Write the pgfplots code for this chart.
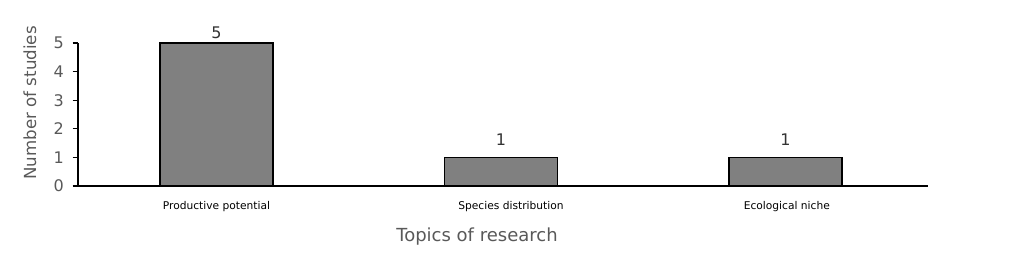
\documentclass[border=0pt]{standalone}
\usepackage{pgfplots}
\pgfplotsset{compat=1.18}
\usepackage{fontspec}
\setmainfont{DejaVu Sans}
\definecolor{tickgray}{HTML}{595959}
\definecolor{barfill}{HTML}{808080}
\begin{document}
\begin{tikzpicture}
\begin{axis}[
  scale only axis,
  width=637.5pt, height=107.25pt,
  xmin=-0.487, xmax=2.501, ymin=0, ymax=5,
  axis x line*=bottom, axis y line*=left,
  axis line style={black, line width=0.9pt},
  xtick={0,1,2},
  xticklabels={{\raisebox{-5pt}{Productive potential}}, {\hspace*{15pt}Species distribution}, {\hspace*{2pt}\raisebox{0.8pt}{Ecological niche}}},
  x tick label style={font=\fontsize{8}{9}\selectfont, text=black, yshift=-4pt},
  major x tick style={draw=none},
  ytick={0,1,2,3,4,5},
  y tick label style={font=\fontsize{12}{14}\selectfont, text=tickgray, xshift=-3pt},
  /pgf/number format/assume math mode=true,
  tick align=outside,
  major tick length=4pt,
  ytick style={black, line width=0.8pt},
  clip=false,
  ybar, bar width=84.75pt, bar shift=0pt,
  nodes near coords,
  every node near coord/.append style={font=\fontsize{12}{14}\selectfont, text=black!80},
]
\addplot[fill=barfill, draw=black, line width=1pt, every node near coord/.append style={yshift=-1pt}] coordinates {(0,5)};
\addplot[fill=barfill, draw=black, line width=1pt, every node near coord/.append style={yshift=5pt}] coordinates {(1,1) (2,1)};
\node[rotate=90, font=\fontsize{12.5}{14}\selectfont, text=tickgray] at (axis cs:-0.6555,2.90) {Number of studies};
\node[font=\fontsize{13.5}{15}\selectfont, text=tickgray] at (axis cs:0.9157,-1.783) {Topics of research};
\coordinate (bl) at (axis cs:-0.761,-2.972);
\coordinate (tr) at (axis cs:2.842,6.503);
\end{axis}
\path (bl) rectangle (tr);
\end{tikzpicture}
\end{document}
